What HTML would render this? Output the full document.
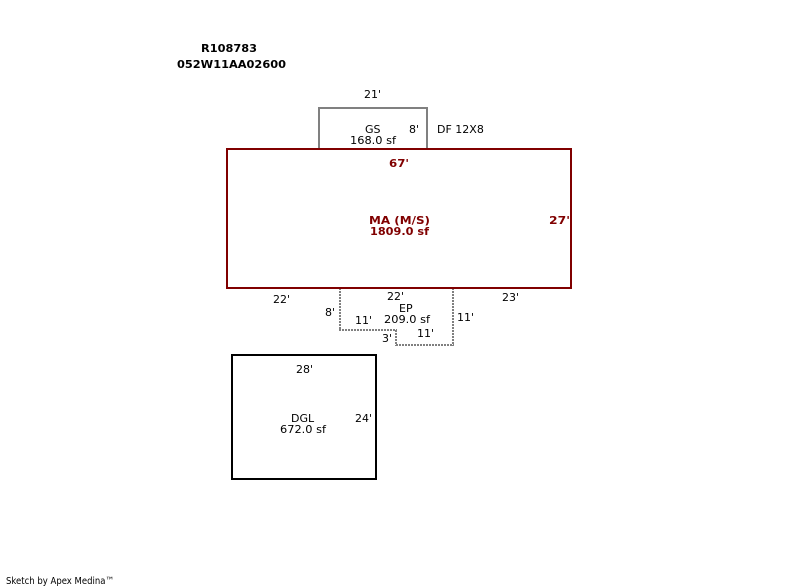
<!DOCTYPE html>
<html>
<head>
<meta charset="utf-8">
<style>
html,body{margin:0;padding:0;background:#fff;width:800px;height:587px;overflow:hidden}
svg{display:block}
text{font-family:"DejaVu Sans","Liberation Sans",sans-serif;font-size:11px;fill:#000;text-rendering:optimizeSpeed}
.b{font-weight:bold}
.r{fill:#800000;font-weight:bold}
</style>
</head>
<body>
<svg width="800" height="587" viewBox="0 0 800 587" xmlns="http://www.w3.org/2000/svg" shape-rendering="crispEdges">
<defs>
<pattern id="dv" patternUnits="userSpaceOnUse" x="0" y="0" width="3" height="3"><rect width="3" height="2" fill="#808080"/></pattern>
<pattern id="dh" patternUnits="userSpaceOnUse" x="0" y="0" width="3" height="3"><rect width="2" height="3" fill="#808080"/></pattern>
</defs>
<!-- GS -->
<path d="M319 149V108H427V149" fill="none" stroke="#808080" stroke-width="2"/>
<!-- EP -->
<rect x="339" y="289" width="2" height="42" fill="url(#dv)"/>
<rect x="339" y="329" width="58" height="2" fill="url(#dh)"/>
<rect x="395" y="329" width="2" height="17" fill="url(#dv)"/>
<rect x="395" y="344" width="59" height="2" fill="url(#dh)"/>
<rect x="452" y="289" width="2" height="57" fill="url(#dv)"/>
<!-- MA -->
<rect x="227" y="149" width="344" height="139" fill="none" stroke="#800000" stroke-width="2"/>
<!-- DGL -->
<rect x="232" y="355" width="144" height="124" fill="none" stroke="#000" stroke-width="2"/>

<text class="b" x="201" y="52" textLength="56" lengthAdjust="spacingAndGlyphs">R108783</text>
<text class="b" x="177" y="68" textLength="109" lengthAdjust="spacingAndGlyphs">052W11AA02600</text>

<text x="364" y="98">21'</text>
<text x="365" y="133">GS</text>
<text x="409" y="133">8'</text>
<text x="437" y="133">DF 12X8</text>
<text x="350" y="144" textLength="46" lengthAdjust="spacingAndGlyphs">168.0 sf</text>

<text class="r" x="389" y="167" textLength="20" lengthAdjust="spacingAndGlyphs">67'</text>
<text class="r" x="369" y="224" textLength="61" lengthAdjust="spacingAndGlyphs">MA (M/S)</text>
<text class="r" x="370" y="235" textLength="59" lengthAdjust="spacingAndGlyphs">1809.0 sf</text>
<text class="r" x="549" y="224" textLength="21" lengthAdjust="spacingAndGlyphs">27'</text>

<text x="273" y="303">22'</text>
<text x="387" y="300">22'</text>
<text x="502" y="301">23'</text>
<text x="399" y="312">EP</text>
<text x="325" y="316">8'</text>
<text x="355" y="324">11'</text>
<text x="384" y="323" textLength="46" lengthAdjust="spacingAndGlyphs">209.0 sf</text>
<text x="457" y="321">11'</text>
<text x="417" y="337">11'</text>
<text x="382" y="342">3'</text>

<text x="296" y="373">28'</text>
<text x="291" y="422">DGL</text>
<text x="355" y="422">24'</text>
<text x="280" y="433" textLength="46" lengthAdjust="spacingAndGlyphs">672.0 sf</text>

<text x="6" y="584" style="font-size:10px" textLength="108" lengthAdjust="spacingAndGlyphs">Sketch by Apex Medina™</text>
</svg>
</body>
</html>
